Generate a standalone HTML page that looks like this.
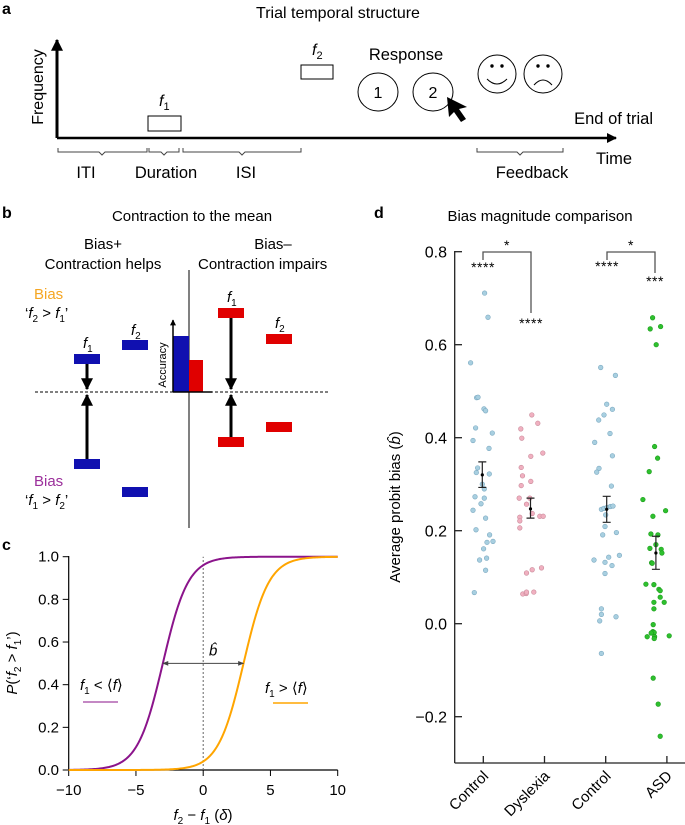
<!DOCTYPE html>
<html><head><meta charset="utf-8"><style>
body{margin:0;background:#fff}
svg{display:block;font-family:"Liberation Sans",sans-serif}
</style></head><body>
<svg id="fig" width="685" height="825" viewBox="0 0 685 825">
<defs>
<marker id="ah" viewBox="0 0 10 10" refX="9" refY="5" markerWidth="4" markerHeight="4" orient="auto"><path d="M0,0L10,5L0,10z" fill="#000"/></marker>
<marker id="ahs" viewBox="0 0 10 10" refX="9" refY="5" markerWidth="6" markerHeight="6" orient="auto-start-reverse"><path d="M0,1L10,5L0,9z" fill="#444"/></marker>
</defs>
<!-- Panel a -->
<g>
<text x="2" y="14" font-size="16" font-weight="bold">a</text>
<text x="338" y="18" font-size="16" text-anchor="middle">Trial temporal structure</text>
<line x1="57" y1="138" x2="57" y2="40" stroke="#000" stroke-width="3" marker-end="url(#ah)"/>
<line x1="57" y1="138" x2="616" y2="138" stroke="#000" stroke-width="2.5" marker-end="url(#ah)"/>
<text transform="translate(43,87) rotate(-90)" font-size="16" text-anchor="middle">Frequency</text>
<rect x="148" y="116" width="33" height="15" fill="#fff" stroke="#000"/>
<text x="159" y="106" font-size="16" font-style="italic">f<tspan font-size="11" font-style="normal" dy="4">1</tspan></text>
<rect x="301" y="65" width="32" height="14" fill="#fff" stroke="#000"/>
<text x="312" y="55" font-size="16" font-style="italic">f<tspan font-size="11" font-style="normal" dy="4">2</tspan></text>
<text x="406" y="60" font-size="16.5" text-anchor="middle">Response</text>
<ellipse cx="378" cy="92" rx="20" ry="19" fill="#fff" stroke="#000"/>
<text x="378" y="98" font-size="16" text-anchor="middle">1</text>
<ellipse cx="433" cy="92" rx="20" ry="19" fill="#fff" stroke="#000"/>
<text x="433" y="98" font-size="16" text-anchor="middle">2</text>
<path d="M447,97 L449,117 L454,112 L461,122 L466,119 L459,109 L467,107 Z" fill="#000"/>
<g fill="none" stroke="#000">
<ellipse cx="497" cy="74" rx="19" ry="19"/><circle cx="492" cy="66" r="1.2" fill="#000"/><circle cx="502" cy="66" r="1.2" fill="#000"/><path d="M487,79 Q497,89 507,79"/></g>
<g fill="none" stroke="#000">
<ellipse cx="543" cy="74" rx="19" ry="19"/><circle cx="538" cy="66" r="1.2" fill="#000"/><circle cx="548" cy="66" r="1.2" fill="#000"/><path d="M534,85 Q543,75 552,85"/></g>
<text x="653" y="124" font-size="16.5" text-anchor="end">End of trial</text>
<text x="596" y="164" font-size="16.5">Time</text>
<g fill="none" stroke="#444" stroke-width="1">
<path d="M58,148 v4 h41 l3,3 l3,-3 h42 v-4"/>
<path d="M149,148 v4 h12 l3,3 l3,-3 h12 v-4"/>
<path d="M183,148 v4 h56 l3,3 l3,-3 h56 v-4"/>
<path d="M477,148 v4 h40 l3,3 l3,-3 h40 v-4"/>
</g>
<text x="86" y="178" font-size="16.5" text-anchor="middle">ITI</text>
<text x="166" y="178" font-size="16.5" text-anchor="middle">Duration</text>
<text x="246" y="178" font-size="16.5" text-anchor="middle">ISI</text>
<text x="532" y="178" font-size="16.5" text-anchor="middle">Feedback</text>
</g>
<!-- Panel b -->
<g>
<text x="2" y="218" font-size="16" font-weight="bold">b</text>
<text x="192" y="221" font-size="15" text-anchor="middle">Contraction to the mean</text>
<text x="103" y="249" font-size="15" text-anchor="middle">Bias+</text>
<text x="103" y="269" font-size="15" text-anchor="middle">Contraction helps</text>
<text x="273" y="249" font-size="15" text-anchor="middle">Bias–</text>
<text x="198" y="269" font-size="15">Contraction impairs</text>
<line x1="189" y1="270" x2="189" y2="528" stroke="#000"/>
<line x1="35" y1="392" x2="330" y2="392" stroke="#000" stroke-dasharray="3,2"/>
<text x="34" y="299" font-size="15" fill="#f5a623">Bias</text>
<text x="25" y="318" font-size="15">‘<tspan font-style="italic">f</tspan><tspan font-size="10" dy="4">2</tspan><tspan dy="-4"> &gt; </tspan><tspan font-style="italic">f</tspan><tspan font-size="10" dy="4">1</tspan><tspan dy="-4">’</tspan></text>
<text x="34" y="486" font-size="15" fill="#9b2f9b">Bias</text>
<text x="25" y="505" font-size="15">‘<tspan font-style="italic">f</tspan><tspan font-size="10" dy="4">1</tspan><tspan dy="-4"> &gt; </tspan><tspan font-style="italic">f</tspan><tspan font-size="10" dy="4">2</tspan><tspan dy="-4">’</tspan></text>
<g fill="#1010b0">
<rect x="74" y="354" width="26" height="10"/><rect x="122" y="340" width="26" height="10"/>
<rect x="74" y="459" width="26" height="10"/><rect x="122" y="487" width="26" height="10"/>
<rect x="173" y="336" width="16" height="56"/></g>
<g fill="#e00000">
<rect x="218" y="308" width="26" height="10"/><rect x="266" y="334" width="26" height="10"/>
<rect x="218" y="437" width="26" height="10"/><rect x="266" y="422" width="26" height="10"/>
<rect x="189" y="360" width="14" height="32"/></g>
<g stroke="#000" stroke-width="3">
<line x1="87" y1="364" x2="87" y2="389" marker-end="url(#ah)"/><line x1="87" y1="459" x2="87" y2="395" marker-end="url(#ah)"/>
<line x1="231" y1="318" x2="231" y2="389" marker-end="url(#ah)"/><line x1="231" y1="437" x2="231" y2="395" marker-end="url(#ah)"/></g>
<line x1="173" y1="392" x2="173" y2="320" stroke="#000" stroke-width="1.5" marker-end="url(#ah)"/>
<line x1="173" y1="392" x2="212" y2="392" stroke="#000" stroke-width="1.5"/>
<text transform="translate(166,365) rotate(-90)" font-size="11" text-anchor="middle">Accuracy</text>
<g font-size="15" font-style="italic">
<text x="83" y="348">f<tspan font-size="10" font-style="normal" dy="4">1</tspan></text>
<text x="131" y="335">f<tspan font-size="10" font-style="normal" dy="4">2</tspan></text>
<text x="227" y="302">f<tspan font-size="10" font-style="normal" dy="4">1</tspan></text>
<text x="275" y="328">f<tspan font-size="10" font-style="normal" dy="4">2</tspan></text></g>
</g>
<!-- Panel c -->
<g id="pc">
<text x="2" y="550" font-size="16" font-weight="bold">c</text>
</g>
<!-- Panel d -->
<g id="pd">
<text x="374" y="218" font-size="16" font-weight="bold">d</text>
<text x="540" y="221" font-size="15" text-anchor="middle">Bias magnitude comparison</text>
</g>
</svg>
<script>
var NS='http://www.w3.org/2000/svg';
function mk(p,t,a){var e=document.createElementNS(NS,t);for(var k in a)e.setAttribute(k,a[k]);p.appendChild(e);return e;}
// ---- Panel c data ----
var cXTicks=[-10,-5,0,5,10];
var cYTicks=[0,0.2,0.4,0.6,0.8,1.0];
var cYTickLabels=['0.0','0.2','0.4','0.6','0.8','1.0'];
var cCurveCenters=[-3,3];
var cCurveSlope=1.06;
var cCurveColors=['#8b148b','#ffa500'];
var bHat=[-3,3];
// ---- Panel d data ----
var dCategories=['Control','Dyslexia','Control','ASD'];
var dYTicks=[-0.2,0,0.2,0.4,0.6,0.8];
var dYTickLabels=['\u22120.2','0.0','0.2','0.4','0.6','0.8'];
var control1Vals=[0.711,0.659,0.561,0.486,0.487,0.462,0.458,0.421,0.41,0.394,0.377,0.335,0.325,0.322,0.30,0.29,0.273,0.27,0.258,0.244,0.227,0.202,0.191,0.175,0.177,0.161,0.137,0.141,0.115,0.067];
var control1Jit=[1.3,4.7,-12.7,-6.7,-5.3,0.7,2.3,-7.7,9,-10.3,5.7,-5.7,-7,6,-1,1,-8.3,1,-2.3,-10.3,2.3,-7.3,6.3,3.7,9.7,0.3,-3.7,3.3,2.3,-9];
var dyslexiaVals=[0.449,0.419,0.431,0.399,0.36,0.367,0.336,0.318,0.306,0.297,0.27,0.27,0.257,0.237,0.231,0.231,0.229,0.221,0.206,0.109,0.116,0.12,0.064,0.065,0.068,0.068];
var dyslexiaJit=[-12.7,-23.7,-6.7,-22.7,-13.7,-1.7,-23.3,-22,-13.7,-23.3,-25.3,-14.7,-18,-12.3,-4.7,-1.3,-24.7,-24.7,-24.7,-18,-12.3,-3,-21.7,-18.3,-18,-10.7];
var control2Vals=[0.551,0.534,0.472,0.449,0.438,0.461,0.409,0.39,0.361,0.334,0.326,0.296,0.246,0.248,0.25,0.252,0.253,0.234,0.209,0.191,0.196,0.137,0.143,0.132,0.125,0.147,0.108,0.032,0.02,0.006,0.015,-0.064];
var control2Jit=[-5,9.7,1,-1.7,-7,6.7,4.3,-11,6.7,-6.7,-9,5.7,-4.3,-1.7,1.3,4.7,7.3,0,-0.7,-3,10.7,-11.7,3,-0.7,6.3,13.7,-0.7,-4.3,-4.3,-6,10.3,-4.3];
var asdVals=[0.658,0.634,0.639,0.6,0.381,0.356,0.327,0.267,0.231,0.243,0.193,0.191,0.162,0.17,0.16,0.152,0.131,0.13,0.085,0.084,0.074,0.071,0.057,0.046,0.046,0.032,-0.002,-0.017,-0.019,-0.02,-0.028,-0.028,-0.032,-0.026,-0.117,-0.173,-0.242];
var asdJit=[-14.3,-16.7,-6.3,-10.7,-12.3,-9.3,-17.7,-24,-14,-1.3,-16,-9,-17,-11,-5.7,-5,-15.3,-14.7,-21,-13,-8,-6.7,-6.7,-13,-2.7,-13,-13.7,-14,-12.7,-15.7,-19.7,-12.3,-12.7,2.3,-13.7,-8.7,-6.7];
var dMeans=[0.32,0.247,0.246,0.152];
var dErrLo=[0.293,0.227,0.218,0.117];
var dErrHi=[0.348,0.27,0.274,0.188];
var dColors=['#a8cfe0','#f0b0c0','#a8cfe0','#2ec02e'];
var dStroke=['#7aa8c0','#c88898','#7aa8c0','#1a9a1a'];

// ---- draw panel c ----
var pc=document.getElementById('pc');
function cx(v){return 68.7+(v+10)*(337.7-68.7)/20;}
function cy(v){return 770-v*(770-556.7);}
mk(pc,'line',{x1:68.7,y1:556,x2:68.7,y2:770,stroke:'#000','stroke-width':1.2,});
mk(pc,'line',{x1:68.7,y1:770,x2:337.7,y2:770,stroke:'#000','stroke-width':1.2,});
cXTicks.forEach(function(t){
 var l=mk(pc,'line',{x1:cx(t),y1:770,x2:cx(t),y2:776,stroke:'#000'});
 
 
 var tx=mk(pc,'text',{x:cx(t),y:795,'font-size':15,'text-anchor':'middle'});
 
 
 tx.textContent=(t<0?'\u2212'+(-t):String(t));
});
cYTicks.forEach(function(t,i){
 var l=mk(pc,'line',{x1:62.7,y1:cy(t),x2:68.7,y2:cy(t),stroke:'#000'});
 
 
 var tx=mk(pc,'text',{x:59,y:cy(t)+5,'font-size':15,'text-anchor':'end'});
 
 
 tx.textContent=cYTickLabels[i];
});
var dv=mk(pc,'line',{x1:cx(0),y1:cy(0),x2:cx(0),y2:cy(1),stroke:'#666','stroke-dasharray':'2,2'});


cCurveCenters.forEach(function(c0,i){
 var d='';
 for(var x=-10;x<=10.001;x+=0.1){var p=1/(1+Math.exp(-cCurveSlope*(x-c0)));d+=(d?'L':'M')+cx(x).toFixed(2)+','+cy(p).toFixed(2);}
 var pth=mk(pc,'path',{d:d,fill:'none',stroke:cCurveColors[i],'stroke-width':2});
 
 
});
var ba=mk(pc,'line',{x1:cx(bHat[0]),y1:cy(0.5),x2:cx(bHat[1]),y2:cy(0.5),stroke:'#444','stroke-width':1,'marker-start':'url(#ahs)','marker-end':'url(#ahs)'});


var bt=mk(pc,'text',{x:cx(0)+10,y:cy(0.5)-8,'font-size':15,'font-style':'italic','text-anchor':'middle'});


bt.textContent='b\u0302';
var l1=mk(pc,'text',{x:80,y:690,'font-size':15});


l1.innerHTML='<tspan font-style="italic">f</tspan><tspan font-size="10" dy="4">1</tspan><tspan dy="-4"> &lt; \u27e8</tspan><tspan font-style="italic">f</tspan>\u27e9';
mk(pc,'line',{x1:83,y1:702,x2:118,y2:702,stroke:'#b060b0','stroke-width':1.5,});
var l2=mk(pc,'text',{x:265,y:693,'font-size':15});


l2.innerHTML='<tspan font-style="italic">f</tspan><tspan font-size="10" dy="4">1</tspan><tspan dy="-4"> &gt; \u27e8</tspan><tspan font-style="italic">f</tspan>\u27e9';
mk(pc,'line',{x1:273,y1:703,x2:308,y2:703,stroke:'#ffa500','stroke-width':1.5,});
var xt=mk(pc,'text',{x:203,y:820,'font-size':15,'text-anchor':'middle'});


xt.innerHTML='<tspan font-style="italic">f</tspan><tspan font-size="10" dy="4">2</tspan><tspan dy="-4"> \u2212 </tspan><tspan font-style="italic">f</tspan><tspan font-size="10" dy="4">1</tspan><tspan dy="-4"> (</tspan><tspan font-style="italic">\u03b4</tspan>)';
var yt=mk(pc,'text',{transform:'translate(17,663) rotate(-90)','font-size':15,'text-anchor':'middle'});


yt.innerHTML='<tspan font-style="italic">P</tspan>(‘<tspan font-style="italic">f</tspan><tspan font-size="10" dy="4">2</tspan><tspan dy="-4"> &gt; </tspan><tspan font-style="italic">f</tspan><tspan font-size="10" dy="4">1</tspan><tspan dy="-4">’)</tspan>';

// ---- draw panel d ----
var pd=document.getElementById('pd');
function dy(v){return 623.7-v*465;}
function dxc(i){return 483.3+i*61.2;}
var errOffset=[-1,-14,1,-11];
mk(pd,'line',{x1:454.7,y1:251,x2:454.7,y2:763,stroke:'#222','stroke-width':1.3,});
mk(pd,'line',{x1:454.7,y1:763,x2:685,y2:763,stroke:'#222','stroke-width':1.3,});
dYTicks.forEach(function(t,i){
 var l=mk(pd,'line',{x1:454.7,y1:dy(t),x2:462,y2:dy(t),stroke:'#222','stroke-width':1.3});
 
 
 var tx=mk(pd,'text',{x:447,y:dy(t)+6,'font-size':16,'text-anchor':'end'});
 
 
 tx.textContent=dYTickLabels[i];
});
dCategories.forEach(function(c,i){
 var x=dxc(i);
 var l=mk(pd,'line',{x1:x,y1:756,x2:x,y2:763,stroke:'#222','stroke-width':1.3});
 
 
 var tx=mk(pd,'text',{transform:'translate('+(x+6)+',777) rotate(-45)','font-size':15,'text-anchor':'end'});
 
 
 tx.textContent=c;
});
var ytd=mk(pd,'text',{transform:'translate(400,507) rotate(-90)','font-size':15,'text-anchor':'middle'});


ytd.innerHTML='Average probit bias (<tspan font-style="italic">b\u0302</tspan>)';
var groups=[[control1Vals,control1Jit],[dyslexiaVals,dyslexiaJit],[control2Vals,control2Jit],[asdVals,asdJit]];
groups.forEach(function(g,i){
 g[0].forEach(function(v,j){
  var c=mk(pd,'circle',{cx:dxc(i)+g[1][j],cy:dy(v),r:2.3,fill:dColors[i],stroke:dStroke[i],'stroke-width':0.6});
  
  
 });
 var ex=dxc(i)+errOffset[i];
 var e=mk(pd,'path',{d:'M'+(ex-4)+','+dy(dErrHi[i])+'h8M'+ex+','+dy(dErrHi[i])+'V'+dy(dErrLo[i])+'M'+(ex-4)+','+dy(dErrLo[i])+'h8',stroke:'#222','stroke-width':1.2,fill:'none'});
 
 
 var m=mk(pd,'circle',{cx:ex,cy:dy(dMeans[i]),r:1.6,fill:'#000'});
 
 
});
function bracket(x1,x2,yl,yr,name){
 var b=mk(pd,'path',{d:'M'+x1+','+yl+'V252H'+x2+'V'+yr,fill:'none',stroke:'#555','stroke-width':1.3});
 
 
}
bracket(483,531,260,313,'bracket-dyslexia');
bracket(607,655,260,273,'bracket-asd');
[[507,250,'*','star-dyslexia-comparison'],[631,250,'*','star-asd-comparison'],[483,272,'****','stars-control1'],[531,328,'****','stars-dyslexia'],[607,271,'****','stars-control2'],[655,286,'***','stars-asd']].forEach(function(s){
 var t=mk(pd,'text',{x:s[0],y:s[1],'font-size':14,'text-anchor':'middle','letter-spacing':'0.5'});
 
 
 t.textContent=s[2];
});
</script>
</body></html>
